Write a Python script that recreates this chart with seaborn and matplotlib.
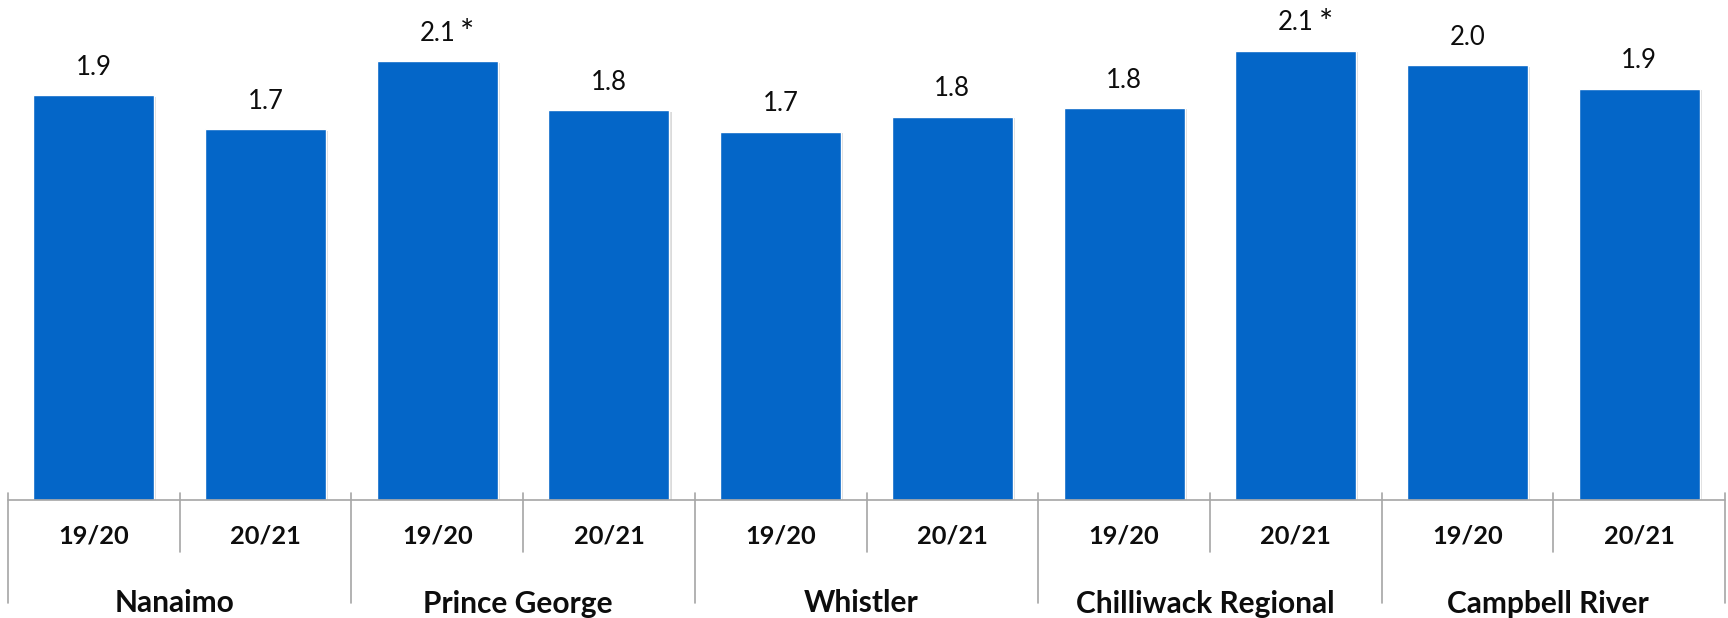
import numpy as np
import pandas as pd
import matplotlib
matplotlib.use("Agg")
import matplotlib.pyplot as plt
import matplotlib.patheffects as pe
from matplotlib.transforms import blended_transform_factory, offset_copy
import seaborn as sns

# ---- data ----
groups = ["Nanaimo", "Prince George", "Whistler", "Chilliwack Regional", "Campbell River"]
years = ["19/20", "20/21"]
values = [1.90, 1.74, 2.06, 1.83, 1.73, 1.80, 1.84, 2.11, 2.04, 1.93]
starred = [False, False, True, False, False, False, False, True, False, False]

sns.set_style("white")
plt.rcParams["font.family"] = ["Lato", "DejaVu Sans"]

rows = []
for gi, g in enumerate(groups):
    for yi, y in enumerate(years):
        rows.append({"group": g, "year": y, "key": f"{g}|{y}", "value": values[gi * 2 + yi]})
df = pd.DataFrame(rows)
order = list(df["key"])

W, H = 1728, 618
fig = plt.figure(figsize=(W / 100, H / 100), dpi=100)
ax = fig.add_axes([8 / W, 118 / H, 1717 / W, 500 / H])

blue = "#0466C8"
sns.barplot(data=df, x="key", y="value", order=order, color=blue, saturation=1,
            width=0.705, ax=ax, errorbar=None)
for p in ax.patches:
    p.set_path_effects([pe.SimplePatchShadow(offset=(1.5, -1), shadow_rgbFace="#9a9a9a", alpha=0.35),
                        pe.Normal()])

ax.set_xlim(-0.5, len(order) - 0.5)
ax.set_ylim(0, 500 / 213)
for s in ax.spines.values():
    s.set_visible(False)
ax.set_xticks([])
ax.set_yticks([])
ax.set_xlabel("")
ax.set_ylabel("")

gray = "#a6a6a6"
# baseline axis
ax.plot([-0.5, len(order) - 0.5], [0, 0], color=gray, lw=1.2, clip_on=False, zorder=3)

tr = blended_transform_factory(ax.transData, fig.transFigure)
for b in range(len(order) + 1):
    x = b - 0.5
    ybot = 603 if b % 2 == 0 else 552
    ax.plot([x, x], [1 - 493 / H, 1 - ybot / H], color=gray, lw=1.2,
            transform=tr, clip_on=False, zorder=3)

txt = "#0d0d0d"
# value labels
for i, v in enumerate(df["value"]):
    ax.annotate(f"{v:.1f}", (i, v), xytext=(0, 14.8), textcoords="offset points",
                ha="center", va="baseline", fontsize=18.5, color=txt)
    if starred[i]:
        ax.annotate("*", (i, v), xytext=(21.5, 13.0), textcoords="offset points",
                    ha="center", va="baseline", fontsize=24, color=txt)

# year labels
for i, y in enumerate(df["year"]):
    ax.text(i, 1 - 535.5 / H, y, transform=tr, ha="center", va="center",
            fontsize=18.3, fontweight="bold", color=txt)

# group labels
tr_g = offset_copy(tr, fig=fig, x=-5, y=0, units="dots")
for gi, g in enumerate(groups):
    ax.text(gi * 2 + 0.5, 1 - 612.5 / H, g, transform=tr_g, ha="center", va="baseline",
            fontsize=21.5, fontweight="bold", color=txt)

fig.savefig("out.png", dpi=100)
